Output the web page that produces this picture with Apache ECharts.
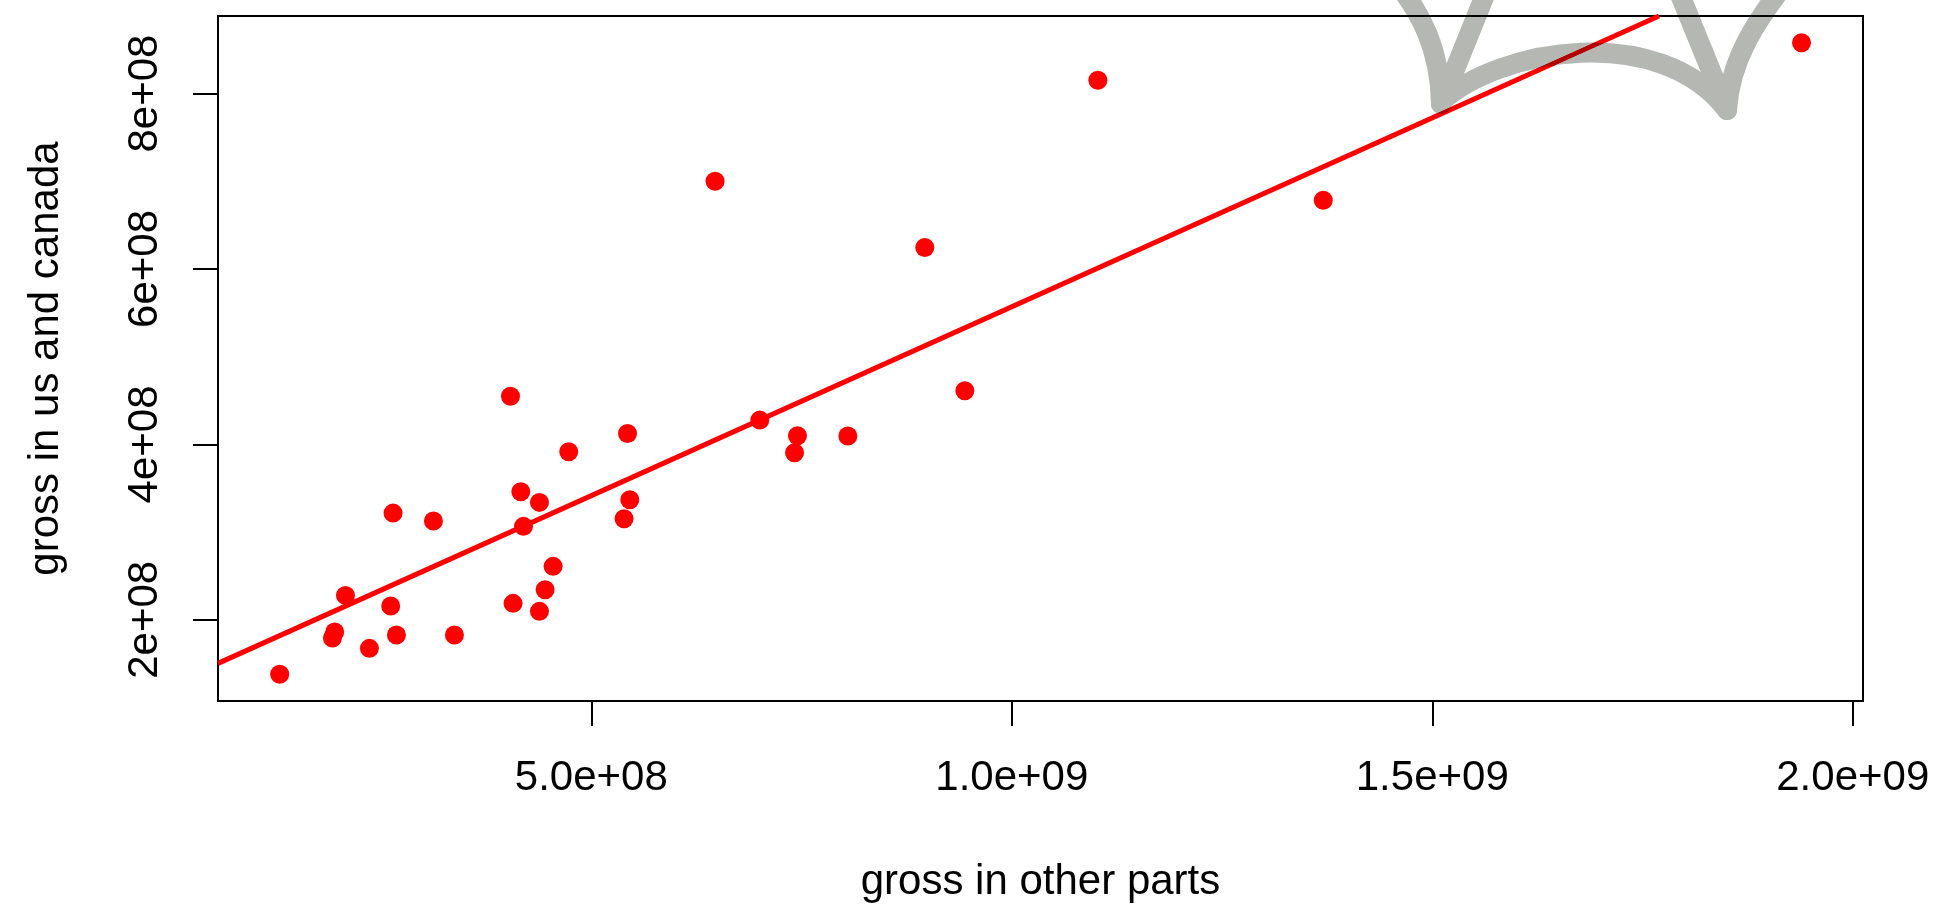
<!DOCTYPE html>
<html>
<head>
<meta charset="utf-8">
<title>gross in us and canada vs gross in other parts</title>
<script src="https://cdn.jsdelivr.net/npm/echarts@6/dist/echarts.min.js"></script>
<style>
    html, body { margin: 0; padding: 0; background: #fff; }
    #chart { width: 1948px; height: 904px; }
</style>
</head>
<body>
<div id="chart"></div>
<script>
// Données (x : autres pays, y : US + Canada)
const grossOther = [
    4.039e8, 5.431e8, 4.732e8, 4.162e8, 4.384e8, 2.643e8, 3.123e8, 4.194e8,
    5.458e8, 5.390e8, 4.546e8, 4.451e8, 4.070e8, 4.384e8, 2.077e8, 2.615e8,
    1.949e8, 1.922e8, 2.683e8, 3.373e8, 2.362e8, 1.295e8,
    6.472e8, 8.966e8, 7.004e8, 7.452e8, 7.417e8, 8.051e8, 9.442e8,
    1.1024e9, 1.3704e9, 1.9391e9
];
const grossUsCanada = [
    4.550e8, 4.125e8, 3.916e8, 3.460e8, 3.339e8, 3.217e8, 3.126e8, 3.066e8,
    3.369e8, 3.152e8, 2.610e8, 2.343e8, 2.188e8, 2.097e8, 2.279e8, 2.157e8,
    1.861e8, 1.793e8, 1.827e8, 1.827e8, 1.675e8, 1.379e8,
    7.001e8, 6.245e8, 4.277e8, 4.098e8, 3.904e8, 4.095e8, 4.611e8,
    8.152e8, 6.784e8, 8.579e8
];

const fitX = [5.614e7, 1.7696e9];
const fitY = [1.504e8, 8.884e8];

// Graduations
const xTicks = [5e8, 1e9, 1.5e9, 2e9];
const xTickLabels = ['5.0e+08', '1.0e+09', '1.5e+09', '2.0e+09'];
const yTicks = [2e8, 4e8, 6e8, 8e8];
const yTickLabels = ['2e+08', '4e+08', '6e+08', '8e+08'];

const police = "'Liberation Sans', Arial, sans-serif";

// Trait gris (annotation de l'image d'origine), en pixels
// blend 'darken' : pas d'assombrissement aux croisements, la ligne rouge passe en rouge foncé
const styleGris = { fill: null, stroke: '#b4b7b2', lineWidth: 20, lineCap: 'round', lineJoin: 'round', blend: 'darken' };
function courbe(x1, y1, c1x, c1y, c2x, c2y, x2, y2) {
    return {
        type: 'bezierCurve', z: 100, silent: true,
        shape: { x1: x1, y1: y1, cpx1: c1x, cpy1: c1y, cpx2: c2x, cpy2: c2y, x2: x2, y2: y2 },
        style: styleGris
    };
}
function trait(x1, y1, x2, y2) {
    return {
        type: 'line', z: 100, silent: true,
        shape: { x1: x1, y1: y1, x2: x2, y2: y2 },
        style: styleGris
    };
}

function initGraph() {
    const chart = echarts.init(document.getElementById('chart'));
    const points = grossOther.map((x, i) => [x, grossUsCanada[i]]);
    const ligne = fitX.map((x, i) => [x, fitY[i]]);

    const option = {
        animation: false,
        backgroundColor: '#fff',
        grid: {
            left: 218, right: 85, top: 16, bottom: 203,
            outerBoundsMode: 'none',
            show: true, borderColor: '#000', borderWidth: 2, backgroundColor: 'transparent'
        },
        xAxis: {
            type: 'value',
            min: 5.614e7, max: 2.0122e9,
            name: 'gross in other parts',
            nameLocation: 'middle',
            nameGap: 181,
            nameTextStyle: { fontFamily: police, fontSize: 42, color: '#000', align: 'center', verticalAlign: 'middle' },
            axisLine: { show: false },
            splitLine: { show: false },
            axisTick: { show: true, customValues: xTicks, length: 25, lineStyle: { color: '#000', width: 2 } },
            axisLabel: {
                customValues: xTicks,
                formatter: v => xTickLabels[xTicks.indexOf(v)],
                margin: 77, fontFamily: police, fontSize: 42, color: '#000',
                verticalAlign: 'middle'
            }
        },
        yAxis: {
            type: 'value',
            min: 1.075e8, max: 8.884e8,
            name: 'gross in us and canada',
            nameLocation: 'middle',
            nameGap: 172,
            nameTextStyle: { fontFamily: police, fontSize: 42, color: '#000', align: 'center', verticalAlign: 'middle' },
            axisLine: { show: false },
            splitLine: { show: false },
            axisTick: { show: true, customValues: yTicks, length: 25, lineStyle: { color: '#000', width: 2 } },
            axisLabel: {
                customValues: yTicks,
                formatter: v => yTickLabels[yTicks.indexOf(v)],
                rotate: 90, margin: 73, fontFamily: police, fontSize: 42, color: '#000',
                align: 'center', verticalAlign: 'middle'
            }
        },
        series: [
            {
                type: 'scatter',
                data: points,
                symbol: 'circle',
                symbolSize: 19,
                itemStyle: { color: '#ff0000', opacity: 1 }
            },
            {
                type: 'line',
                data: ligne,
                symbol: 'none',
                lineStyle: { color: '#ff0000', width: 5 },
                z: 3
            }
        ],
        graphic: [
            courbe(1390, -25, 1422, 12, 1440, 50, 1441, 104),
            trait(1491, -20, 1441, 104),
            courbe(1441, 102, 1500, 48, 1660, 22, 1727, 110),
            trait(1674, -20, 1727, 110),
            courbe(1792, -25, 1756, 20, 1730, 60, 1727, 110)
        ]
    };
    chart.setOption(option);
}

initGraph();
</script>
</body>
</html>
